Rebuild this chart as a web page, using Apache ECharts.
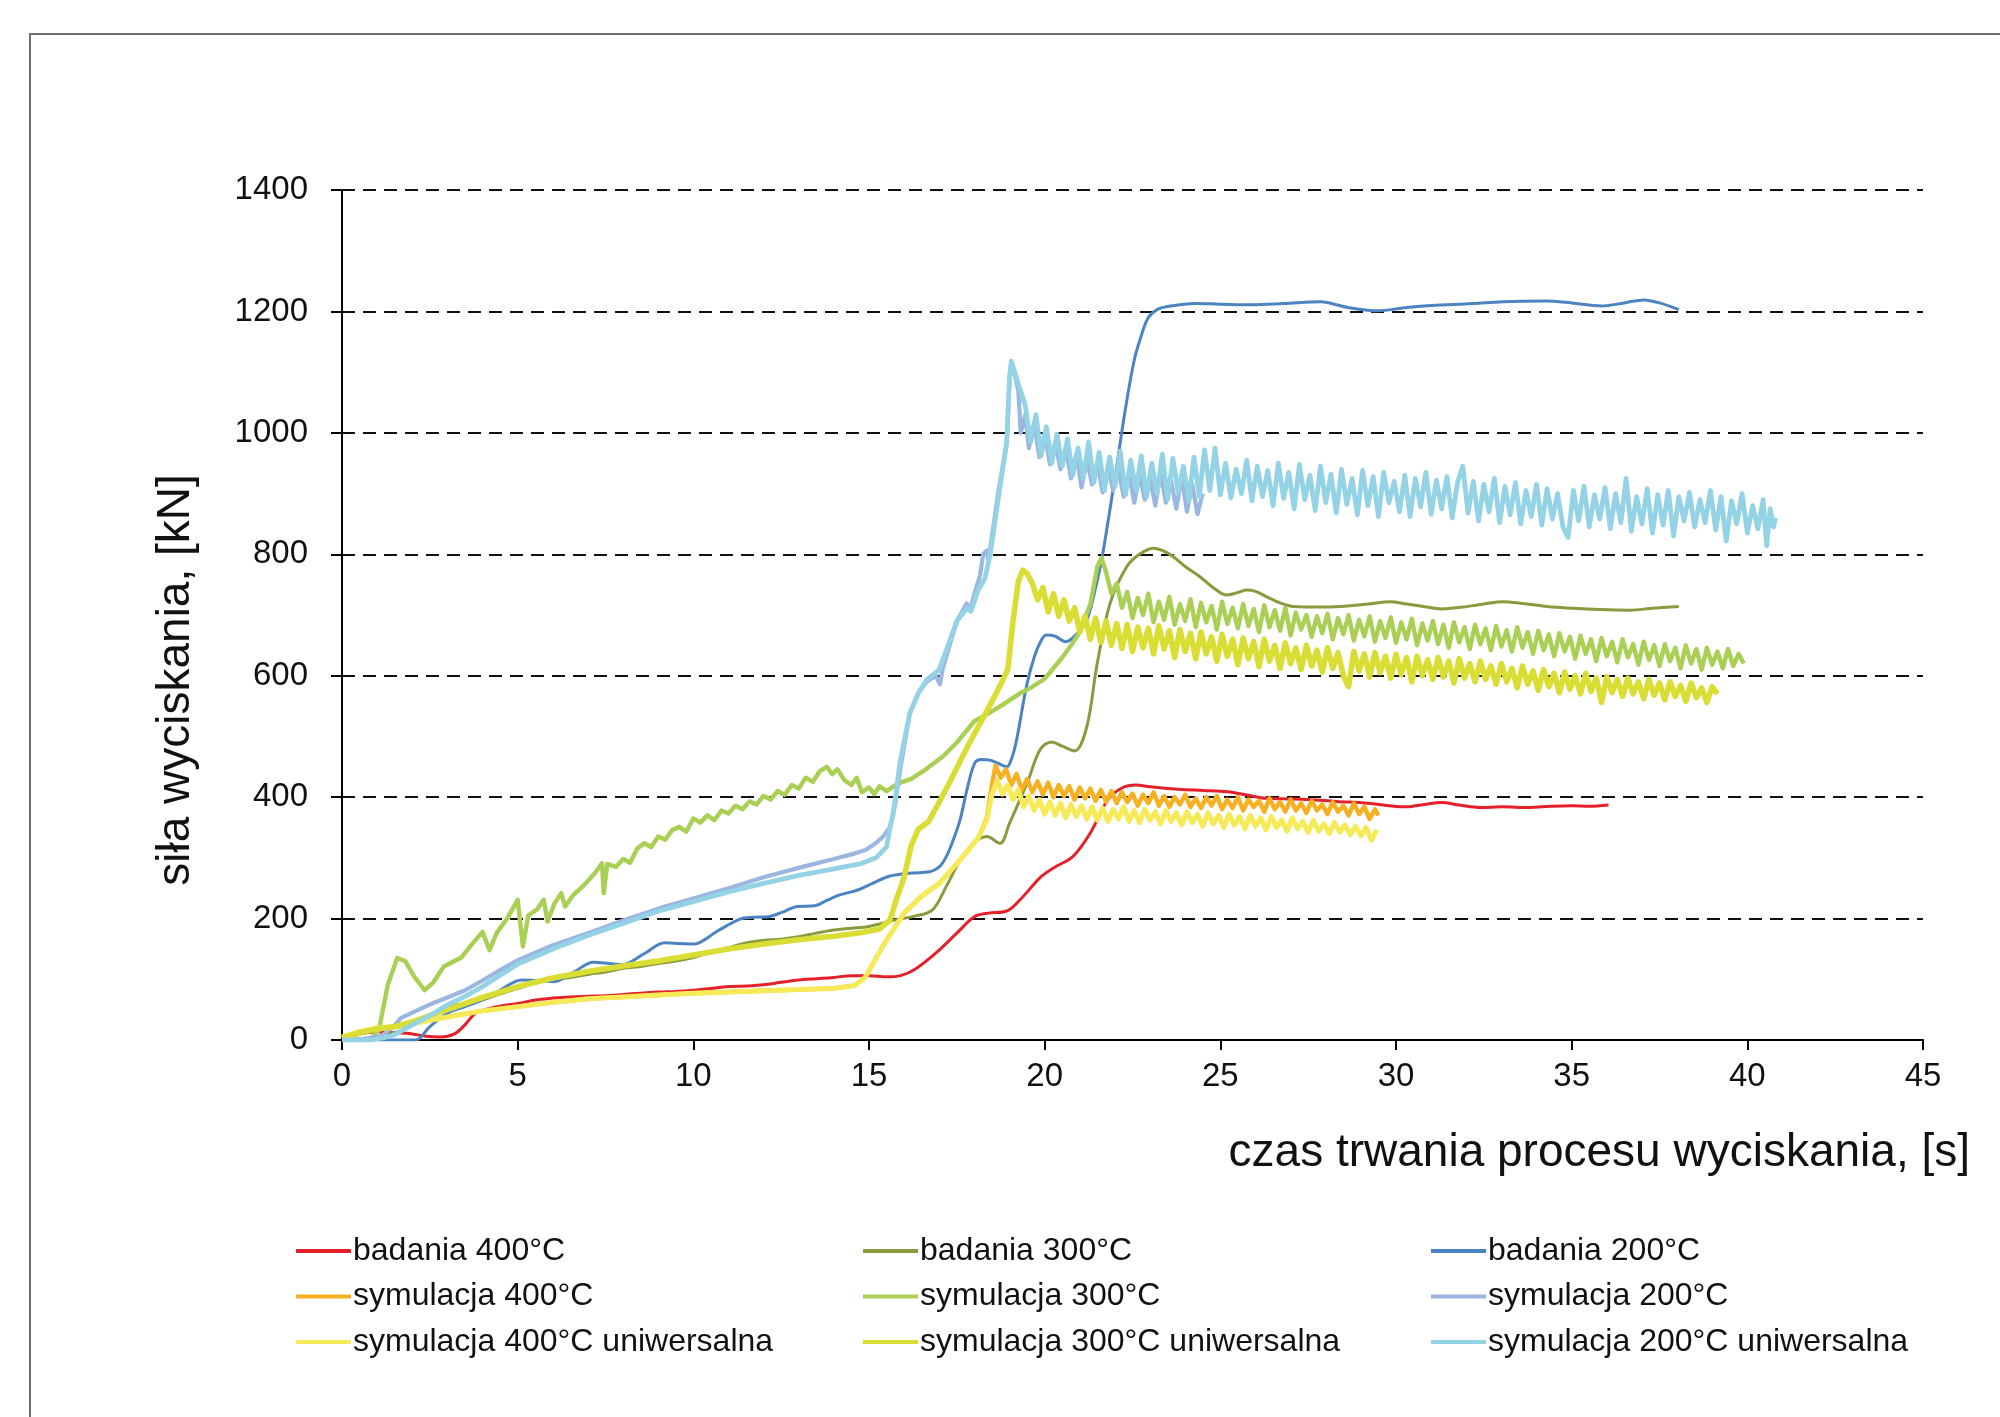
<!DOCTYPE html>
<html>
<head>
<meta charset="utf-8">
<script src="https://cdn.jsdelivr.net/npm/echarts@6/dist/echarts.min.js"></script>
<style>
  html, body { margin: 0; padding: 0; background: #fff; }
  #chart { width: 2000px; height: 1417px; }
</style>
</head>
<body>
<div id="chart"></div>
<script>
// Extrusion force vs. process time: measurements and simulations at 400, 300 and 200 °C.
// Each series is a list of [time in s, force in kN].

const xTicks = { min: 0, max: 45, step: 5 };
const yTicks = { min: 0, max: 1400, step: 200 };

const seriesNames = [
  'badania 400°C', 'badania 300°C', 'badania 200°C',
  'symulacja 400°C', 'symulacja 300°C', 'symulacja 200°C',
  'symulacja 400°C uniwersalna', 'symulacja 300°C uniwersalna', 'symulacja 200°C uniwersalna'
];

const bad400 = [
  [0,0],[0.5,10],[1.0,13],[1.5,12],[2.0,10],[2.4,6],[2.8,5],[3.2,10],[3.5,25],[3.8,44],[4.2,52],[4.6,57],
  [5.0,60],[5.5,66],[6.0,69],[6.5,71],[7.0,72],[7.5,73],[8.0,75],[8.5,77],[9.0,79],[9.5,80],[10.0,82],
  [10.5,85],[11.0,88],[11.5,89],[12.0,91],[12.5,95],[13.0,99],[13.5,101],[14.0,103],[14.5,106],[15.0,106],
  [15.5,104],[15.9,106],[16.3,116],[16.9,143],[17.5,176],[18.0,203],[18.4,209],[18.9,212],[19.3,231],
  [19.9,269],[20.3,285],[20.8,302],[21.3,341],[21.8,396],[22.2,415],[22.6,420],[23.0,417],[23.8,413],
  [24.5,411],[25.2,409],[25.8,403],[26.3,398],[27.0,397],[27.5,396],[28.3,393],[29.2,390],[29.8,386],
  [30.3,384],[30.8,388],[31.3,391],[31.8,387],[32.4,383],[33.0,384],[33.8,383],[34.4,385],[35.0,386],
  [35.5,385],[36.05,387]
];

const bad300 = [
  [0,0],[0.6,2],[1.0,5],[1.5,12],[2.0,25],[2.5,42],[3.0,55],[3.5,60],[4.0,66],[4.5,76],[5.0,85],[5.5,94],
  [6.0,100],[6.5,103],[7.0,108],[7.5,112],[8.0,118],[8.5,121],[9.0,126],[9.5,130],[10.0,136],[10.5,145],
  [11.0,152],[11.5,160],[12.0,164],[12.5,166],[13.0,170],[13.5,176],[14.0,181],[14.5,184],[15.0,187],
  [15.7,197],[16.3,204],[16.8,214],[17.2,253],[17.6,297],[17.97,324],[18.35,335],[18.73,324],[19.0,357],
  [19.5,423],[19.87,478],[20.2,491],[20.5,484],[20.85,476],[21.2,516],[21.48,615],[21.86,719],[22.34,780],
  [22.7,800],[23.1,810],[23.4,805],[23.66,796],[24.0,780],[24.42,763],[24.8,745],[25.18,733],[25.5,737],
  [25.75,741],[26.0,739],[26.32,730],[26.7,720],[27.08,714],[27.8,713],[28.41,714],[29.2,718],[29.84,722],
  [30.3,718],[30.79,714],[31.3,710],[31.9,713],[32.5,718],[33.05,722],[33.6,719],[34.3,714],[35.05,711],
  [35.8,709],[36.65,708],[37.3,711],[38.05,714]
];

const bad200 = [
  [0,0],[1.5,0],[2.1,0],[2.5,22],[3.0,44],[3.5,55],[4.0,66],[4.5,82],[5.12,99],[5.6,98],[6.03,96],
  [6.6,112],[7.16,128],[7.6,126],[7.97,124],[8.6,142],[9.19,160],[9.6,159],[10.0,158],[10.7,180],
  [11.33,199],[11.7,202],[12.14,203],[12.6,212],[12.95,220],[13.46,221],[13.8,230],[14.17,239],[14.68,247],
  [15.1,258],[15.6,270],[16.2,275],[16.73,277],[17.0,285],[17.2,302],[17.4,330],[17.59,362],[17.8,415],
  [18.01,456],[18.2,462],[18.44,461],[18.7,455],[18.92,450],[19.05,462],[19.2,494],[19.48,582],[19.7,630],
  [19.9,658],[20.05,667],[20.3,665],[20.6,656],[20.9,668],[21.2,692],[21.45,745],[21.65,800],[22.05,945],
  [22.3,1040],[22.55,1120],[22.75,1160],[22.95,1190],[23.2,1203],[23.5,1208],[24.27,1213],[25.0,1212],
  [25.87,1211],[26.8,1213],[27.87,1216],[28.3,1211],[28.67,1206],[29.47,1201],[30.25,1206],[30.8,1209],
  [31.45,1211],[32.2,1213],[33.05,1216],[34.25,1217],[35.0,1214],[35.85,1209],[36.5,1214],[37.05,1219],
  [37.5,1214],[38.05,1203]
];

const sim400 = [
  [0,3],[0.5,12],[1.0,20],[1.5,22],[2.0,27],[3.0,38],[4.0,48],[5.0,55],[6.0,62],[7.0,68],[8.0,71],[9.0,74],
  [10.0,77],[11.0,79],[12.0,81],[13.0,83],[14.0,85],[14.6,90],[14.9,104],[15.2,135],[15.5,165],[16.0,209],
  [16.5,237],[17.0,258],[17.6,297],[18.1,332],[18.35,365],[18.5,420],
  [18.6,452],[18.75,432],[18.9,446],[19.05,420],[19.2,438],[19.35,412],[19.5,430],[19.65,408],[19.8,426],
  [19.95,404],[20.1,424],[20.25,400],[20.4,420],[20.55,402],[20.7,418],[20.85,396],[21.0,416],[21.15,398],
  [21.3,414],[21.45,394],[21.6,412],[21.75,392],[21.9,410],[22.05,390],[22.2,408],[22.35,392],[22.5,406],
  [22.65,386],[22.8,404],[22.95,390],[23.1,408],[23.25,386],[23.4,402],[23.55,384],[23.7,400],[23.85,388],
  [24.0,404],[24.15,384],[24.3,398],[24.45,382],[24.6,400],[24.75,386],[24.9,402],[25.05,380],[25.2,396],
  [25.35,382],[25.5,400],[25.65,378],[25.8,396],[25.95,384],[26.1,394],[26.25,376],[26.4,398],[26.55,380],
  [26.7,392],[26.85,376],[27.0,396],[27.15,378],[27.3,390],[27.45,374],[27.6,394],[27.75,378],[27.9,388],
  [28.05,372],[28.2,392],[28.35,376],[28.5,386],[28.65,370],[28.8,390],[28.95,372],[29.1,384],[29.25,364],
  [29.4,380],[29.5,370]
];

const sim300 = [
  [0,0],[0.8,0],[1.05,16],[1.3,90],[1.57,135],[1.8,130],[2.05,105],[2.35,82],[2.6,95],[2.9,121],[3.2,130],
  [3.4,136],[3.7,158],[4.0,178],[4.2,148],[4.4,176],[4.7,200],[5.0,231],[5.15,154],[5.3,205],[5.55,215],
  [5.74,231],[5.85,195],[6.05,225],[6.24,242],[6.35,220],[6.6,240],[6.85,253],[7.0,262],[7.2,275],[7.4,291],
  [7.45,242],[7.55,290],[7.8,285],[8.0,298],[8.2,292],[8.4,315],[8.6,324],[8.8,318],[9.0,335],[9.2,330],
  [9.4,346],[9.6,351],[9.8,343],[10.0,365],[10.2,358],[10.4,370],[10.6,362],[10.8,378],[11.0,373],
  [11.2,386],[11.4,380],[11.6,393],[11.8,388],[12.0,402],[12.2,396],[12.4,410],[12.6,404],[12.8,420],
  [13.0,414],[13.2,432],[13.4,425],[13.6,443],[13.8,450],[13.95,438],[14.1,446],[14.3,428],[14.5,420],
  [14.65,432],[14.8,408],[15.0,416],[15.15,405],[15.3,418],[15.5,410],[15.7,418],[15.9,424],[16.2,430],
  [16.6,445],[17.1,467],[17.5,490],[18.0,525],[18.4,538],[18.8,552],[19.3,571],[19.6,580],[20.0,595],
  [20.5,630],[20.8,654],[21.0,672],[21.3,718],[21.5,780],[21.62,794],
  [21.75,770],[21.9,735],[22.05,752],[22.2,712],[22.35,738],[22.5,695],[22.65,728],[22.8,700],[22.95,735],
  [23.1,688],[23.25,722],[23.4,692],[23.55,730],[23.7,684],[23.85,718],[24.0,690],[24.15,726],[24.3,680],
  [24.45,720],[24.6,688],[24.75,715],[24.9,676],[25.05,722],[25.2,685],[25.35,712],[25.5,678],[25.65,718],
  [25.8,682],[25.95,710],[26.1,672],[26.25,716],[26.4,680],[26.55,708],[26.7,674],[26.85,712],[27.0,666],
  [27.15,704],[27.3,676],[27.45,700],[27.6,664],[27.75,698],[27.9,670],[28.05,702],[28.2,660],[28.35,695],
  [28.5,668],[28.65,700],[28.8,658],[28.95,692],[29.1,665],[29.25,698],[29.4,656],[29.55,690],[29.7,662],
  [29.85,696],[30.0,654],[30.15,688],[30.3,660],[30.45,694],[30.6,650],[30.75,686],[30.9,658],[31.05,690],
  [31.2,652],[31.35,684],[31.5,646],[31.65,688],[31.8,655],[31.95,680],[32.1,644],[32.25,684],[32.4,652],
  [32.55,678],[32.7,642],[32.85,682],[33.0,648],[33.15,675],[33.3,640],[33.45,680],[33.6,646],[33.75,672],
  [33.9,636],[34.05,674],[34.2,642],[34.35,668],[34.5,632],[34.65,670],[34.8,640],[34.95,664],[35.1,628],
  [35.25,666],[35.4,636],[35.55,660],[35.7,624],[35.85,662],[36.0,632],[36.15,656],[36.3,622],[36.45,660],
  [36.6,630],[36.75,652],[36.9,618],[37.05,656],[37.2,626],[37.35,650],[37.5,616],[37.65,652],[37.8,624],
  [37.95,646],[38.1,612],[38.25,650],[38.4,620],[38.55,644],[38.7,610],[38.85,646],[39.0,618],[39.15,640],
  [39.3,612],[39.45,644],[39.6,616],[39.75,636],[39.9,620]
];

const sim200 = [
  [0,0],[0.6,2],[1.1,6],[1.47,22],[1.67,36],[2.0,45],[2.48,58],[3.0,70],[3.5,82],[4.0,98],[4.5,115],
  [5.02,132],[6.0,156],[7.06,177],[8.0,197],[9.09,218],[10.0,233],[11.12,252],[12.0,268],[13.16,286],
  [14.0,298],[14.58,307],[14.9,313],[15.19,324],[15.4,335],[15.6,351],[15.75,390],[15.9,450],[16.0,483],
  [16.16,538],[16.4,571],[16.64,590],[16.9,600],[17.02,586],[17.1,612],[17.5,690],[17.78,719],[17.87,707],
  [18.0,735],[18.16,765],[18.25,800],[18.35,806],[18.4,790],[18.5,830],[18.7,910],[18.92,983],[19.01,1100],
  [19.05,1115],[19.15,1095],[19.25,1070],
  [19.32,1000],[19.45,1030],[19.55,975],[19.7,1015],[19.85,960],[20.0,1000],[20.15,948],[20.3,985],
  [20.45,940],[20.6,975],[20.75,925],[20.9,965],[21.05,910],[21.2,958],[21.35,915],[21.5,950],[21.65,902],
  [21.8,945],[21.95,905],[22.1,940],[22.25,895],[22.4,935],[22.55,885],[22.7,930],[22.85,890],[23.0,925],
  [23.15,880],[23.3,935],[23.45,885],[23.6,920],[23.75,875],[23.9,928],[24.05,870],[24.2,915],[24.35,866],
  [24.5,900]
];

const uni400 = [
  [0,5],[0.5,14],[1.0,20],[1.5,22],[2.0,27],[3.0,38],[4.0,48],[5.0,55],[6.0,62],[7.0,68],[8.0,71],[9.0,74],
  [10.0,77],[11.0,79],[12.0,81],[13.0,83],[14.0,85],[14.6,90],[14.9,104],[15.2,135],[15.5,165],[16.0,209],
  [16.5,237],[17.0,258],[17.6,297],[18.1,332],[18.35,362],[18.5,405],
  [18.65,428],[18.8,405],[18.95,420],[19.1,396],[19.25,412],[19.4,384],[19.55,402],[19.7,378],[19.85,396],
  [20.0,372],[20.15,392],[20.3,370],[20.45,390],[20.6,366],[20.75,388],[20.9,368],[21.05,386],[21.2,364],
  [21.35,384],[21.5,362],[21.65,382],[21.8,360],[21.95,380],[22.1,364],[22.25,384],[22.4,360],[22.55,378],
  [22.7,358],[22.85,380],[23.0,362],[23.15,376],[23.3,356],[23.45,378],[23.6,360],[23.75,374],[23.9,354],
  [24.05,376],[24.2,358],[24.35,372],[24.5,352],[24.65,374],[24.8,356],[24.95,370],[25.1,350],[25.25,372],
  [25.4,354],[25.55,368],[25.7,348],[25.85,370],[26.0,352],[26.15,366],[26.3,346],[26.45,368],[26.6,350],
  [26.75,362],[26.9,344],[27.05,366],[27.2,348],[27.35,360],[27.5,342],[27.65,362],[27.8,344],[27.95,356],
  [28.1,340],[28.25,358],[28.4,342],[28.55,354],[28.7,338],[28.85,352],[29.0,336],[29.15,350],[29.3,329],
  [29.45,346]
];

const uni300 = [
  [0,3],[0.5,12],[1.0,18],[1.5,22],[2.0,30],[2.5,40],[3.0,50],[4.0,70],[5.0,88],[6.0,102],[7.0,113],
  [8.0,122],[9.0,130],[10.0,140],[11.0,150],[12.0,158],[13.0,165],[14.0,171],[14.8,177],[15.3,183],
  [15.6,198],[15.8,235],[16.0,268],[16.2,320],[16.4,347],[16.7,360],[17.0,392],[17.3,425],[17.8,483],
  [18.3,536],[18.7,580],[18.95,610],[19.1,690],[19.25,755],[19.38,774],[19.5,768],
  [19.65,752],[19.8,725],[19.95,745],[20.1,705],[20.25,735],[20.4,698],[20.55,725],[20.7,690],[20.85,712],
  [21.0,672],[21.15,698],[21.3,660],[21.45,695],[21.6,655],[21.75,690],[21.9,650],[22.05,686],[22.2,645],
  [22.35,684],[22.5,640],[22.65,680],[22.8,646],[22.95,678],[23.1,636],[23.25,682],[23.4,644],[23.55,674],
  [23.7,630],[23.85,676],[24.0,640],[24.15,670],[24.3,628],[24.45,672],[24.6,636],[24.75,664],[24.9,624],
  [25.05,668],[25.2,632],[25.35,660],[25.5,618],[25.65,662],[25.8,628],[25.95,656],[26.1,615],[26.25,660],
  [26.4,624],[26.55,650],[26.7,612],[26.85,654],[27.0,620],[27.15,646],[27.3,610],[27.45,650],[27.6,616],
  [27.75,642],[27.9,606],[28.05,646],[28.2,612],[28.35,638],[28.5,600],[28.65,582],[28.8,640],[28.95,608],
  [29.1,636],[29.25,598],[29.4,638],[29.55,605],[29.7,632],[29.85,596],[30.0,635],[30.15,602],[30.3,630],
  [30.45,590],[30.6,632],[30.75,600],[30.9,626],[31.05,594],[31.2,630],[31.35,598],[31.5,624],[31.65,588],
  [31.8,628],[31.95,596],[32.1,620],[32.25,590],[32.4,624],[32.55,594],[32.7,616],[32.85,586],[33.0,620],
  [33.15,590],[33.3,612],[33.45,580],[33.6,616],[33.75,586],[33.9,608],[34.05,576],[34.2,610],[34.35,582],
  [34.5,604],[34.65,572],[34.8,606],[34.95,578],[35.1,600],[35.25,570],[35.4,604],[35.55,574],[35.7,596],
  [35.85,556],[36.0,598],[36.15,572],[36.3,594],[36.45,566],[36.6,596],[36.75,570],[36.9,590],[37.05,562],
  [37.2,594],[37.35,568],[37.5,588],[37.65,560],[37.8,590],[37.95,566],[38.1,584],[38.25,558],[38.4,588],
  [38.55,564],[38.7,580],[38.85,556],[39.0,582],[39.15,570]
];

const uni200 = [
  [0,0],[0.8,0],[1.2,4],[1.47,8],[2.0,25],[2.5,40],[3.0,58],[3.5,72],[4.0,88],[5.0,125],[6.0,150],[7.0,172],
  [8.0,192],[9.0,212],[10.0,228],[11.0,244],[12.0,258],[13.0,271],[14.0,282],[14.74,290],[15.2,300],
  [15.5,318],[15.6,350],[15.69,373],[15.88,456],[15.97,483],[16.16,538],[16.4,571],[16.64,593],[17.0,610],
  [17.5,690],[17.8,712],[17.9,706],[18.1,740],[18.3,760],[18.45,800],[18.7,900],[18.92,985],[19.0,1090],
  [19.05,1118],[19.15,1100],[19.25,1080],
  [19.45,1045],[19.6,985],[19.75,1030],[19.9,962],[20.05,1010],[20.2,950],[20.35,998],[20.5,945],
  [20.65,990],[20.8,930],[20.95,975],[21.1,925],[21.25,985],[21.4,918],[21.55,968],[21.7,905],[21.85,960],
  [22.0,912],[22.15,970],[22.3,898],[22.45,955],[22.6,905],[22.75,962],[22.9,895],[23.05,950],[23.2,900],
  [23.35,965],[23.5,890],[23.65,958],[23.8,902],[23.95,945],[24.1,888],[24.25,960],[24.4,895],[24.55,972],
  [24.7,905],[24.85,975],[25.0,898],[25.15,950],[25.3,893],[25.45,940],[25.6,900],[25.75,955],[25.9,888],
  [26.05,945],[26.2,895],[26.35,938],[26.5,880],[26.65,950],[26.8,892],[26.95,935],[27.1,875],[27.25,948],
  [27.4,890],[27.55,930],[27.7,872],[27.85,945],[28.0,885],[28.15,932],[28.3,868],[28.45,940],[28.6,882],
  [28.75,925],[28.9,865],[29.05,938],[29.2,880],[29.35,928],[29.5,862],[29.65,935],[29.8,885],[29.95,920],
  [30.1,870],[30.25,930],[30.4,862],[30.55,925],[30.7,878],[30.85,935],[31.0,866],[31.15,922],[31.3,875],
  [31.45,928],[31.6,860],[31.75,918],[31.9,945],[32.05,868],[32.2,920],[32.35,855],[32.5,915],[32.65,870],
  [32.8,925],[32.95,852],[33.1,912],[33.25,865],[33.4,918],[33.55,850],[33.7,905],[33.85,862],[34.0,915],
  [34.15,848],[34.3,908],[34.45,858],[34.6,900],[34.75,845],[34.9,828],[35.05,905],[35.2,855],[35.35,912],
  [35.5,845],[35.65,898],[35.8,858],[35.95,910],[36.1,842],[36.25,900],[36.4,852],[36.55,925],[36.7,838],
  [36.85,895],[37.0,850],[37.15,908],[37.3,835],[37.45,898],[37.6,848],[37.75,905],[37.9,830],[38.05,895],
  [38.2,855],[38.35,902],[38.5,845],[38.65,890],[38.8,852],[38.95,905],[39.1,840],[39.25,895],[39.4,822],
  [39.55,888],[39.7,850],[39.85,900],[40.0,835],[40.15,880],[40.3,842],[40.45,890],[40.55,814],[40.65,875],
  [40.75,845],[40.8,860]
];

const seriesData = [bad400, bad300, bad200, sim400, sim300, sim200, uni400, uni300, uni200];
const seriesColors = ['#E4202A', '#8A9A3E', '#4C84C2', '#F6B022', '#A9CF55', '#9BB6E0', '#F6EA58', '#DADD33', '#94D2E6'];
const seriesWidths = [3.0, 3.0, 3.0, 4.4, 4.4, 4.2, 5.0, 5.6, 4.8];
const seriesSmooth = [0.35, 0.35, 0.35, 0, 0, 0, 0, 0, 0];

const FONT = '"Liberation Sans", Arial, sans-serif';

const chart = echarts.init(document.getElementById('chart'), null, { renderer: 'canvas' });

const legendCols = [296, 863, 1431];
const legends = legendCols.map((left, c) => ({
  orient: 'vertical',
  left: left,
  top: 1234,
  itemWidth: 55,
  itemHeight: 4,
  itemGap: 11.5,
  icon: 'rect',
  padding: 0,
  data: [seriesNames[c], seriesNames[c + 3], seriesNames[c + 6]],
  textStyle: { fontFamily: FONT, fontSize: 32, color: '#111', lineHeight: 34, padding: [0, 0, 0, -3] }
}));

const option = {
  backgroundColor: '#ffffff',
  animation: false,
  grid: { left: 342, right: 77, top: 190, bottom: 377, containLabel: false },
  legend: legends,
  xAxis: {
    type: 'value',
    min: xTicks.min, max: xTicks.max, interval: xTicks.step,
    axisLine: { show: true, onZero: false, lineStyle: { color: '#000', width: 2 } },
    axisTick: { show: true, inside: false, length: 10, lineStyle: { color: '#000', width: 2 } },
    axisLabel: { fontFamily: FONT, fontSize: 33, color: '#111', margin: 20, formatter: v => String(v) },
    splitLine: { show: false }
  },
  yAxis: {
    type: 'value',
    min: yTicks.min, max: yTicks.max, interval: yTicks.step,
    axisLine: { show: true, lineStyle: { color: '#000', width: 2 } },
    axisTick: { show: true, inside: false, length: 11, lineStyle: { color: '#000', width: 2 } },
    axisLabel: { fontFamily: FONT, fontSize: 33, color: '#111', margin: 34, formatter: v => String(v) },
    splitLine: { show: true, lineStyle: { color: '#111', width: 2, type: [13, 8] } }
  },
  series: seriesNames.map((name, i) => ({
    name: name,
    type: 'line',
    data: seriesData[i],
    showSymbol: false,
    symbol: 'none',
    smooth: seriesSmooth[i],
    color: seriesColors[i],
    lineStyle: { color: seriesColors[i], width: seriesWidths[i], join: 'round' },
    emphasis: { disabled: true },
    z: 2 + i
  })),
  graphic: [
    {
      type: 'rect', silent: true, z: 0,
      shape: { x: 30, y: 34, width: 2200, height: 1600 },
      style: { fill: 'transparent', stroke: '#707070', lineWidth: 2 }
    },
    {
      type: 'text', silent: true,
      x: 1970, y: 1153,
      style: {
        text: 'czas trwania procesu wyciskania, [s]',
        font: '46px ' + FONT, fill: '#111',
        textAlign: 'right', textVerticalAlign: 'middle'
      }
    },
    {
      type: 'text', silent: true,
      x: 176, y: 680, rotation: Math.PI / 2,
      style: {
        text: 'siła wyciskania, [kN]',
        font: '46px ' + FONT, fill: '#111',
        textAlign: 'center', textVerticalAlign: 'middle'
      }
    }
  ]
};

chart.setOption(option);
</script>
</body>
</html>
